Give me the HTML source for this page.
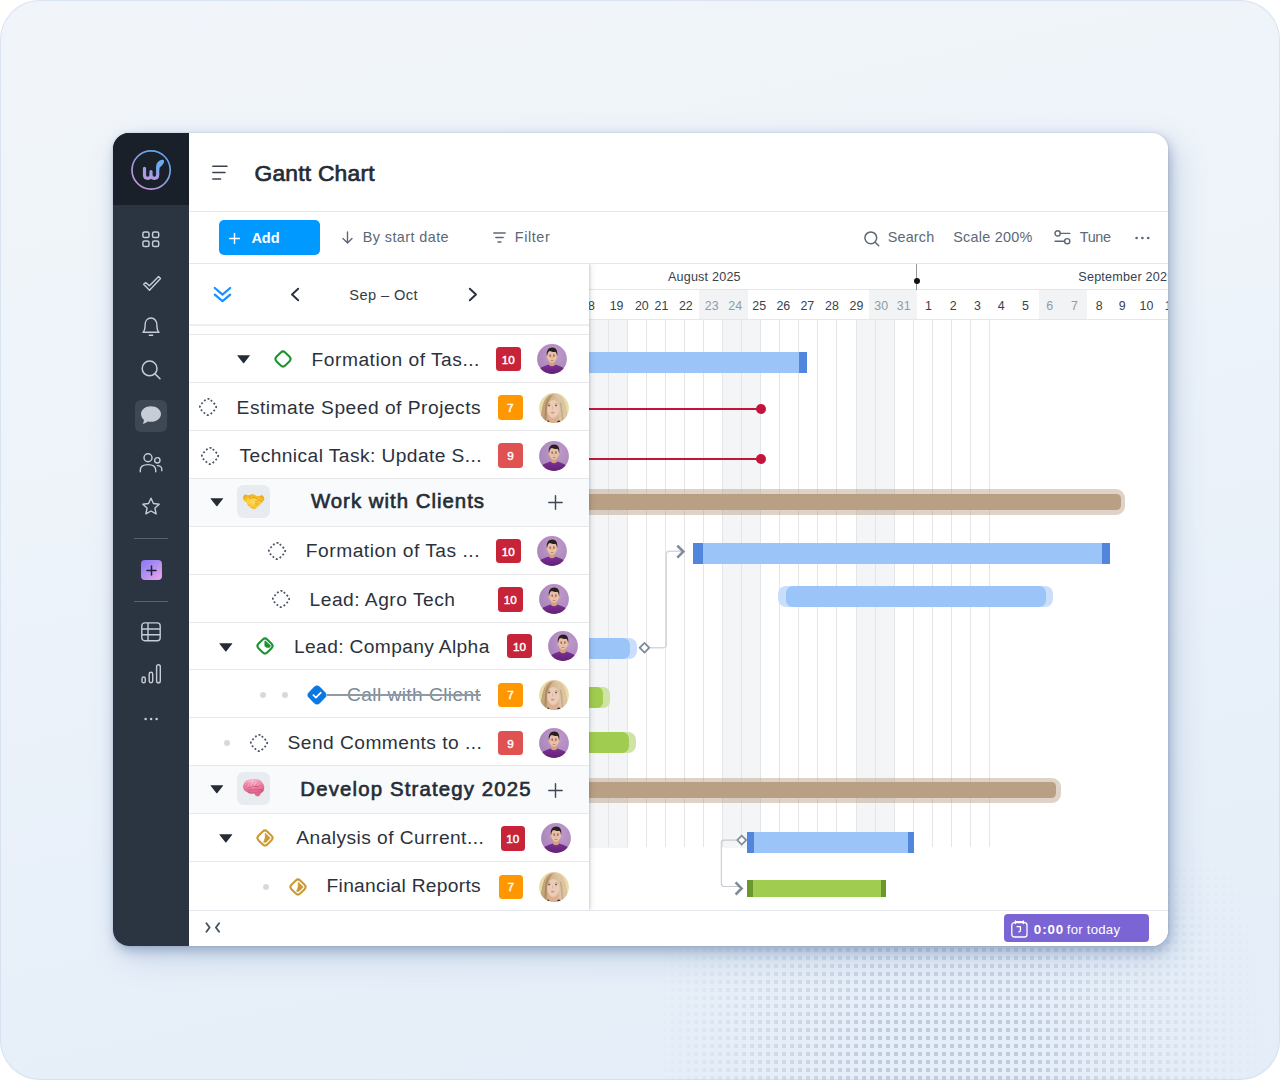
<!DOCTYPE html><html lang="en"><head><meta charset="utf-8"><title>Gantt Chart</title><style>
*{box-sizing:border-box;margin:0;padding:0}
html,body{width:1280px;height:1080px;overflow:hidden}
body{background:#fff;font-family:"Liberation Sans",sans-serif;position:relative}
.a{position:absolute}
.t{position:absolute;white-space:nowrap;line-height:1}
#bg{position:absolute;left:0;top:0;width:1280px;height:1080px;border-radius:40px;
 background:linear-gradient(168deg,#f1f5fa 0%,#edf3f9 40%,#e8f0f9 70%,#e4edf8 100%);box-shadow:inset 0 0 0 1px rgba(200,215,235,.55);overflow:hidden}
#shadow{position:absolute;left:113px;top:133px;width:1055px;height:813px;border-radius:16px;
 box-shadow:0 0 2px rgba(70,95,135,.28),2px 5px 12px rgba(80,110,155,.42),8px 12px 32px rgba(100,130,175,.24)}
#win{position:absolute;left:0;top:0;width:1280px;height:1080px;clip-path:inset(133px 112px 134px 113px round 16px);background:#fff}
svg{position:absolute;overflow:visible}
</style></head><body>
<div id="bg"><svg width="1280" height="1080" style="left:0;top:0"><defs><pattern id="dp" x="6" y="4" width="8" height="8" patternUnits="userSpaceOnUse"><rect width="4" height="4" fill="#c1ccdb"/></pattern><linearGradient id="mh" x1="660" y1="0" x2="1260" y2="0" gradientUnits="userSpaceOnUse"><stop offset="0" stop-color="#000"/><stop offset=".2" stop-color="#999"/><stop offset=".36" stop-color="#fff"/><stop offset=".62" stop-color="#fff"/><stop offset=".8" stop-color="#777"/><stop offset="1" stop-color="#000"/></linearGradient><linearGradient id="mv" x1="0" y1="850" x2="0" y2="1080" gradientUnits="userSpaceOnUse"><stop offset="0" stop-color="#000"/><stop offset=".4" stop-color="#aaa"/><stop offset=".75" stop-color="#fff"/><stop offset="1" stop-color="#fff"/></linearGradient><mask id="m1"><rect x="600" y="800" width="680" height="280" fill="url(#mh)"/></mask><mask id="m2"><rect x="600" y="800" width="680" height="280" fill="url(#mv)"/></mask></defs><g mask="url(#m1)"><rect x="600" y="800" width="680" height="280" fill="url(#dp)" mask="url(#m2)"/></g></svg></div>
<div id="shadow"></div><div id="win">
<div class="a" style="left:113px;top:133px;width:76px;height:813px;background:#2b3441"></div>
<div class="a" style="left:113px;top:133px;width:76px;height:72px;background:#1a202a"></div>
<svg style="left:130px;top:149px" width="42" height="42" viewBox="0 0 42 42"><defs><linearGradient id="lg" x1="0.85" y1="0.1" x2="0.2" y2="0.95"><stop offset="0" stop-color="#58a5ee"/><stop offset=".5" stop-color="#8e9de0"/><stop offset="1" stop-color="#c795d3"/></linearGradient><linearGradient id="lg2" x1="0.8" y1="0" x2="0.4" y2="1"><stop offset="0" stop-color="#86a6ea"/><stop offset="1" stop-color="#b59ae0"/></linearGradient></defs><circle cx="21.1" cy="21" r="19.1" fill="none" stroke="url(#lg)" stroke-width="1.7"/><path d="M14.5 19.3 V26.1 Q14.5 29.35 17.75 29.35 Q21 29.35 21 26.1 V22.6 M21 26.1 Q21 29.35 24.35 29.35 Q27.7 29.35 27.7 26.1 V19" fill="none" stroke="url(#lg2)" stroke-width="3.2" stroke-linecap="round" stroke-linejoin="round"/><path d="M26.1 20 C26 16 26.4 13.4 29.8 11.4 C31.6 10.4 34 10.5 34.1 12 C34.2 14.4 32 16.8 29.3 19 L29.3 21 Z" fill="#6dabec"/></svg>
<svg style="left:142px;top:231px" width="18" height="17" viewBox="0 0 18 17" fill="none" stroke="#c6cdd7" stroke-width="1.5"><rect x=".9" y=".9" width="6.1" height="5.6" rx="1.6"/><rect x="10.6" y=".9" width="6.1" height="5.6" rx="1.6"/><rect x=".9" y="10" width="6.1" height="5.6" rx="1.6"/><rect x="10.6" y="10" width="6.1" height="5.6" rx="1.6"/></svg>
<svg style="left:142px;top:275px" width="20" height="17" viewBox="0 0 20 17" fill="none" stroke="#c6cdd7" stroke-width="1.4" stroke-linejoin="round"><path d="M1.6 9.3 L3.7 7.6 L7.4 10.8 L16.6 1.6 L18.5 3.5 L7.5 15.2 Z"/></svg>
<svg style="left:142px;top:317px" width="18" height="20" viewBox="0 0 18 20" fill="none" stroke="#c6cdd7" stroke-width="1.4" stroke-linecap="round" stroke-linejoin="round"><path d="M1 15.2 C3 13.6 3.1 11.5 3.1 8 C3.1 3.8 5.6 1 9 1 C12.4 1 14.9 3.8 14.9 8 C14.9 11.5 15 13.6 17 15.2 Z"/><path d="M7.3 18.3 H10.7"/></svg>
<svg style="left:141px;top:360px" width="20" height="20" viewBox="0 0 20 20" fill="none" stroke="#c6cdd7" stroke-width="1.5" stroke-linecap="round"><circle cx="8.6" cy="8.4" r="7.4"/><path d="M14 13.9 L19 18.7"/></svg>
<div class="a" style="left:134.5px;top:399.5px;width:32.5px;height:32px;border-radius:6px;background:#3e4754"></div>
<svg style="left:140px;top:405px" width="22" height="21" viewBox="0 0 22 21"><path d="M11 1.2 C16.6 1.2 21 4.6 21 9 C21 13.4 16.6 16.8 11 16.8 C9.8 16.8 8.7 16.6 7.7 16.4 C6.5 17.6 4.6 18.7 2.7 18.7 C3.6 17.5 4 16 3.8 14.7 C2 13.2 1 11.2 1 9 C1 4.6 5.4 1.2 11 1.2 Z" fill="#c6cdd7"/></svg>
<svg style="left:139px;top:452px" width="24" height="21" viewBox="0 0 24 21" fill="none" stroke="#c6cdd7" stroke-width="1.4" stroke-linecap="round"><circle cx="9" cy="5.7" r="4"/><path d="M1.3 19.7 V18 C1.3 14.6 4.2 12.6 9 12.6 C13.8 12.6 16.7 14.6 16.7 18 V19.7"/><circle cx="18.3" cy="8.3" r="2.7"/><path d="M18.3 13.6 C21 13.6 22.8 15 22.8 17.6 V18.7"/></svg>
<svg style="left:141px;top:496px" width="20" height="20" viewBox="0 0 20 20" fill="none" stroke="#c6cdd7" stroke-width="1.4" stroke-linejoin="round"><path d="M10 2.2 L12.45 7.5 L18.2 8.2 L13.95 12.1 L15.1 17.8 L10 15 L4.9 17.8 L6.05 12.1 L1.8 8.2 L7.55 7.5 Z"/></svg>
<div class="a" style="left:134px;top:537.5px;width:33.5px;height:1.2px;background:#58626f"></div>
<div class="a" style="left:140.5px;top:559.5px;width:21px;height:20.5px;border-radius:4px;background:linear-gradient(140deg,#8a79f6 0%,#a98bf3 40%,#f2a7eb 100%)"></div>
<svg style="left:145.5px;top:564.5px" width="11" height="11" viewBox="0 0 11 11" stroke="#1f2430" stroke-width="1.5" stroke-linecap="round"><path d="M5.5 1 V10 M1 5.5 H10"/></svg>
<div class="a" style="left:134px;top:600.5px;width:33.5px;height:1.2px;background:#58626f"></div>
<svg style="left:141px;top:622px" width="20" height="20" viewBox="0 0 20 20" fill="none" stroke="#c6cdd7" stroke-width="1.4"><rect x=".8" y=".9" width="18.4" height="17.8" rx="3"/><path d="M.8 7 H19.2 M.8 12.8 H19.2 M7 .9 V18.7"/></svg>
<svg style="left:140.5px;top:664px" width="21" height="20" viewBox="0 0 21 20" fill="none" stroke="#c6cdd7" stroke-width="1.4"><rect x="1" y="13" width="3.3" height="5.8" rx="1.65"/><rect x="8.2" y="8.3" width="3.5" height="10.5" rx="1.75"/><rect x="15.6" y=".8" width="3.7" height="18" rx="1.85"/></svg>
<svg style="left:144px;top:717px" width="15" height="4" viewBox="0 0 15 4" fill="#c6cdd7"><circle cx="1.6" cy="2" r="1.25"/><circle cx="7.1" cy="2" r="1.25"/><circle cx="12.6" cy="2" r="1.25"/></svg>
<div class="a" style="left:189px;top:211px;width:979px;height:1px;background:#e3e6ea"></div>
<svg style="left:211.5px;top:165px" width="16" height="15" viewBox="0 0 16 15" stroke="#3a424d" stroke-width="1.5" stroke-linecap="round"><path d="M.8 1.2 H15 M.8 7.6 H13 M.8 14 H8.6"/></svg>
<span class="t " style="left:254.50px;top:162.00px;font-size:22.8px;color:#242b35;letter-spacing:0.224px;-webkit-text-stroke:.7px #242b35;">Gantt Chart</span>
<div class="a" style="left:189px;top:263px;width:979px;height:1px;background:#e3e6ea"></div>
<div class="a" style="left:218.5px;top:220px;width:101px;height:35px;border-radius:5px;background:#0099ff"></div>
<svg style="left:228.5px;top:232.5px" width="11" height="11" viewBox="0 0 11 11" stroke="#fff" stroke-width="1.5" stroke-linecap="round"><path d="M5.5 .6 V10.4 M.6 5.5 H10.4"/></svg>
<span class="t " style="left:251.40px;top:231.00px;font-size:14.6px;color:#fff;letter-spacing:-0.067px;font-weight:700;">Add</span>
<svg style="left:342px;top:231px" width="11" height="13" viewBox="0 0 11 13" fill="none" stroke="#5c6877" stroke-width="1.4" stroke-linecap="round" stroke-linejoin="round"><path d="M5.5 1 V11.6 M1 7.4 L5.5 11.9 L10 7.4"/></svg>
<span class="t " style="left:362.76px;top:230.00px;font-size:14.4px;color:#5c6877;letter-spacing:0.421px;">By start date</span>
<svg style="left:493px;top:231.5px" width="13" height="11" viewBox="0 0 13 11" stroke="#5c6877" stroke-width="1.4" stroke-linecap="round"><path d="M.8 1 H12.2 M2.8 5.5 H10.2 M5 10 H8"/></svg>
<span class="t " style="left:514.76px;top:230.00px;font-size:14.4px;color:#5c6877;letter-spacing:0.592px;">Filter</span>
<svg style="left:864px;top:230.5px" width="16" height="16" viewBox="0 0 16 16" fill="none" stroke="#5c6877" stroke-width="1.5" stroke-linecap="round"><circle cx="6.8" cy="6.8" r="5.9"/><path d="M11.2 11.3 L14.7 14.8"/></svg>
<span class="t " style="left:887.76px;top:230.00px;font-size:14.4px;color:#5c6877;letter-spacing:0.161px;">Search</span>
<span class="t " style="left:953.26px;top:230.00px;font-size:14.4px;color:#5c6877;letter-spacing:0.253px;">Scale 200%</span>
<svg style="left:1054px;top:230px" width="17" height="15" viewBox="0 0 17 15" fill="none" stroke="#5c6877" stroke-width="1.4" stroke-linecap="round"><circle cx="3.6" cy="3.4" r="2.6"/><path d="M6.4 3.4 H15.8"/><circle cx="13.2" cy="11.2" r="2.6"/><path d="M1 11.2 H10.4"/></svg>
<span class="t " style="left:1079.75px;top:230.00px;font-size:14.4px;color:#5c6877;letter-spacing:-0.344px;">Tune</span>
<svg style="left:1135px;top:235.5px" width="15" height="4" viewBox="0 0 15 4" fill="#5c6877"><circle cx="1.6" cy="2" r="1.35"/><circle cx="7.4" cy="2" r="1.35"/><circle cx="13.2" cy="2" r="1.35"/></svg>
<div class="a" style="left:589px;top:289px;width:579px;height:1px;background:#e3e6ea"></div>
<div class="a" style="left:589px;top:319px;width:579px;height:1px;background:#e3e6ea"></div>
<div class="a" style="left:699px;top:290px;width:48.60px;height:29.2px;background:#f1f3f5"></div>
<div class="a" style="left:868.5px;top:290px;width:48.25px;height:29.2px;background:#f1f3f5"></div>
<div class="a" style="left:1038.5px;top:290px;width:48.25px;height:29.2px;background:#f1f3f5"></div>
<span class="t " style="left:581.21px;top:300.00px;font-size:12.4px;color:#38414c;letter-spacing:0.000px;">18</span>
<span class="t " style="left:609.71px;top:300.00px;font-size:12.4px;color:#38414c;letter-spacing:0.000px;">19</span>
<span class="t " style="left:634.96px;top:300.00px;font-size:12.4px;color:#38414c;letter-spacing:0.000px;">20</span>
<span class="t " style="left:654.58px;top:300.00px;font-size:12.4px;color:#38414c;letter-spacing:0.000px;">21</span>
<span class="t " style="left:678.93px;top:300.00px;font-size:12.4px;color:#38414c;letter-spacing:0.000px;">22</span>
<span class="t " style="left:704.76px;top:300.00px;font-size:12.4px;color:#8f9baa;letter-spacing:0.000px;">23</span>
<span class="t " style="left:728.31px;top:300.00px;font-size:12.4px;color:#8f9baa;letter-spacing:0.000px;">24</span>
<span class="t " style="left:752.36px;top:300.00px;font-size:12.4px;color:#38414c;letter-spacing:0.000px;">25</span>
<span class="t " style="left:776.46px;top:300.00px;font-size:12.4px;color:#38414c;letter-spacing:0.000px;">26</span>
<span class="t " style="left:800.48px;top:300.00px;font-size:12.4px;color:#38414c;letter-spacing:0.000px;">27</span>
<span class="t " style="left:825.06px;top:300.00px;font-size:12.4px;color:#38414c;letter-spacing:0.000px;">28</span>
<span class="t " style="left:849.56px;top:300.00px;font-size:12.4px;color:#38414c;letter-spacing:0.000px;">29</span>
<span class="t " style="left:874.31px;top:300.00px;font-size:12.4px;color:#8f9baa;letter-spacing:0.000px;">30</span>
<span class="t " style="left:896.78px;top:300.00px;font-size:12.4px;color:#8f9baa;letter-spacing:0.000px;">31</span>
<span class="t " style="left:924.90px;top:300.00px;font-size:12.4px;color:#38414c;letter-spacing:0.000px;">1</span>
<span class="t " style="left:949.65px;top:300.00px;font-size:12.4px;color:#38414c;letter-spacing:0.000px;">2</span>
<span class="t " style="left:974.03px;top:300.00px;font-size:12.4px;color:#38414c;letter-spacing:0.000px;">3</span>
<span class="t " style="left:997.65px;top:300.00px;font-size:12.4px;color:#38414c;letter-spacing:0.000px;">4</span>
<span class="t " style="left:1022.03px;top:300.00px;font-size:12.4px;color:#38414c;letter-spacing:0.000px;">5</span>
<span class="t " style="left:1046.28px;top:300.00px;font-size:12.4px;color:#8f9baa;letter-spacing:0.000px;">6</span>
<span class="t " style="left:1070.90px;top:300.00px;font-size:12.4px;color:#8f9baa;letter-spacing:0.000px;">7</span>
<span class="t " style="left:1095.78px;top:300.00px;font-size:12.4px;color:#38414c;letter-spacing:0.000px;">8</span>
<span class="t " style="left:1118.78px;top:300.00px;font-size:12.4px;color:#38414c;letter-spacing:0.000px;">9</span>
<span class="t " style="left:1139.56px;top:300.00px;font-size:12.4px;color:#38414c;letter-spacing:0.000px;">10</span>
<span class="t " style="left:1164.73px;top:300.00px;font-size:12.4px;color:#38414c;letter-spacing:0.000px;">11</span>
<span class="t " style="left:667.90px;top:271.00px;font-size:12.6px;color:#38414c;letter-spacing:0.199px;">August 2025</span>
<span class="t " style="left:1078.30px;top:271.00px;font-size:12.6px;color:#38414c;letter-spacing:0.213px;">September 2025</span>
<div class="a" style="left:916.3px;top:264px;width:1px;height:26px;background:#9097a0"></div>
<div class="a" style="left:913.6px;top:277.6px;width:6.4px;height:6.4px;border-radius:50%;background:#111"></div>
<div class="a" style="left:588.89px;top:320px;width:38.65px;height:528px;background:#f3f5f7"></div>
<div class="a" style="left:722.74px;top:320px;width:38.08px;height:528px;background:#f3f5f7"></div>
<div class="a" style="left:856.02px;top:320px;width:38.08px;height:528px;background:#f3f5f7"></div>
<div class="a" style="left:608.00px;top:320px;width:1px;height:527px;background:#e3e5e7"></div>
<div class="a" style="left:627.04px;top:320px;width:1px;height:527px;background:#e3e5e7"></div>
<div class="a" style="left:646.08px;top:320px;width:1px;height:527px;background:#e3e5e7"></div>
<div class="a" style="left:665.12px;top:320px;width:1px;height:527px;background:#e3e5e7"></div>
<div class="a" style="left:684.16px;top:320px;width:1px;height:527px;background:#e3e5e7"></div>
<div class="a" style="left:703.20px;top:320px;width:1px;height:527px;background:#e3e5e7"></div>
<div class="a" style="left:722.24px;top:320px;width:1px;height:527px;background:#e3e5e7"></div>
<div class="a" style="left:741.28px;top:320px;width:1px;height:527px;background:#e3e5e7"></div>
<div class="a" style="left:760.32px;top:320px;width:1px;height:527px;background:#e3e5e7"></div>
<div class="a" style="left:779.36px;top:320px;width:1px;height:527px;background:#e3e5e7"></div>
<div class="a" style="left:798.40px;top:320px;width:1px;height:527px;background:#e3e5e7"></div>
<div class="a" style="left:817.44px;top:320px;width:1px;height:527px;background:#e3e5e7"></div>
<div class="a" style="left:836.48px;top:320px;width:1px;height:527px;background:#e3e5e7"></div>
<div class="a" style="left:855.52px;top:320px;width:1px;height:527px;background:#e3e5e7"></div>
<div class="a" style="left:874.56px;top:320px;width:1px;height:527px;background:#e3e5e7"></div>
<div class="a" style="left:893.60px;top:320px;width:1px;height:527px;background:#e3e5e7"></div>
<div class="a" style="left:912.64px;top:320px;width:1px;height:527px;background:#e3e5e7"></div>
<div class="a" style="left:931.68px;top:320px;width:1px;height:527px;background:#e3e5e7"></div>
<div class="a" style="left:950.72px;top:320px;width:1px;height:527px;background:#e3e5e7"></div>
<div class="a" style="left:969.76px;top:320px;width:1px;height:527px;background:#e3e5e7"></div>
<div class="a" style="left:988.80px;top:320px;width:1px;height:527px;background:#e3e5e7"></div>
<div class="a" style="left:580px;top:352px;width:226.75px;height:21.00px;background:#9bc5f9;"></div>
<div class="a" style="left:799px;top:352px;width:7.75px;height:21.00px;background:#5285dc;"></div>
<div class="a" style="left:580px;top:408.4px;width:180.00px;height:2.00px;background:#c5143a;"></div>
<div class="a" style="left:755.75px;top:404.25px;width:10.00px;height:10.00px;background:#c5143a;border-radius:50%"></div>
<div class="a" style="left:580px;top:457.6px;width:180.00px;height:2.00px;background:#c5143a;"></div>
<div class="a" style="left:755.75px;top:453.5px;width:10.00px;height:10.00px;background:#c5143a;border-radius:50%"></div>
<div class="a" style="left:570px;top:489.25px;width:555.00px;height:25.75px;background:rgba(184,158,130,.45);border-radius:9px"></div>
<div class="a" style="left:570px;top:494.25px;width:551.00px;height:15.75px;background:#b99f84;border-radius:4.5px"></div>
<div class="a" style="left:693px;top:543px;width:416.70px;height:21.00px;background:#9bc5f9;"></div>
<div class="a" style="left:693px;top:543px;width:9.60px;height:21.00px;background:#5285dc;"></div>
<div class="a" style="left:1102px;top:543px;width:7.70px;height:21.00px;background:#5285dc;"></div>
<div class="a" style="left:777.5px;top:585.75px;width:275.90px;height:20.85px;background:#c8defb;border-radius:8px"></div>
<div class="a" style="left:786px;top:585.75px;width:260.40px;height:20.85px;background:#9bc5f9;border-radius:7px"></div>
<div class="a" style="left:570px;top:637.5px;width:66.50px;height:21.00px;background:#c8defb;border-radius:8px"></div>
<div class="a" style="left:570px;top:637.5px;width:59.50px;height:21.00px;background:#9bc5f9;border-radius:7px"></div>
<div class="a" style="left:570px;top:686.75px;width:39.75px;height:21.00px;background:#cfe3a6;border-radius:7px"></div>
<div class="a" style="left:570px;top:686.75px;width:33.00px;height:21.00px;background:#a0cc4f;border-radius:6px"></div>
<div class="a" style="left:570px;top:731.75px;width:66.00px;height:21.00px;background:#cfe3a6;border-radius:8px"></div>
<div class="a" style="left:570px;top:731.75px;width:59.00px;height:21.00px;background:#a0cc4f;border-radius:7px"></div>
<div class="a" style="left:570px;top:777.5px;width:490.50px;height:25.75px;background:rgba(184,158,130,.45);border-radius:9px"></div>
<div class="a" style="left:570px;top:782px;width:486.20px;height:16.25px;background:#b99f84;border-radius:4.5px"></div>
<div class="a" style="left:746.9px;top:832.2px;width:167.10px;height:20.80px;background:#9bc5f9;"></div>
<div class="a" style="left:746.9px;top:832.2px;width:7.00px;height:20.80px;background:#5285dc;"></div>
<div class="a" style="left:907.6px;top:832.2px;width:6.40px;height:20.80px;background:#5285dc;"></div>
<div class="a" style="left:746.9px;top:879.75px;width:139.40px;height:17.25px;background:#a0cc4f;"></div>
<div class="a" style="left:746.9px;top:879.75px;width:5.80px;height:17.25px;background:#6b982c;"></div>
<div class="a" style="left:880.7px;top:879.75px;width:5.60px;height:17.25px;background:#6b982c;"></div>
<svg style="left:0;top:0" width="1280" height="1080" fill="none"><path d="M650.5 647.75 H663.2 Q666.2 647.75 666.2 644.75 V554.3 Q666.2 551.3 669.2 551.3 H682" stroke="#d3d8dd" stroke-width="1.5"/><path d="M677.3 545.6 L683.3 551.6 L677.3 557.6" stroke="#7f8b97" stroke-width="2.6"/><path d="M639.7 647.75 L644.5 642.95 L649.3 647.75 L644.5 652.55 Z" fill="#fff" stroke="#7f8b97" stroke-width="1.8"/><path d="M736 840.1 H724.3 Q721.3 840.1 721.3 843.1 V883.5 Q721.3 886.5 724.3 886.5 H740" stroke="#c3cad1" stroke-width="1.1"/><path d="M735.6 882.3 L741.6 888.4 L735.6 894.5" stroke="#7f8b97" stroke-width="2.6"/><path d="M737.2 840.1 L741.7 835.6 L746.2 840.1 L741.7 844.6 Z" fill="#fff" stroke="#7f8b97" stroke-width="1.7"/></svg>
<div class="a" style="left:189px;top:910px;width:979px;height:36px;background:#fff;border-top:1px solid #e3e6ea"></div>
<svg style="left:205px;top:922px" width="16" height="11" viewBox="0 0 16 11" fill="none" stroke="#455367" stroke-width="1.9" stroke-linecap="round" stroke-linejoin="round"><path d="M1.4 1.2 L4.6 5.5 L1.4 9.8 M14.1 1.2 L10.9 5.5 L14.1 9.8"/></svg>
<div class="a" style="left:1004px;top:914.4px;width:145px;height:27.6px;border-radius:4px;background:#7b64d3"></div>
<svg style="left:1010.5px;top:919.5px" width="17" height="18" viewBox="0 0 17 18" fill="none" stroke="#fff" stroke-width="1.3" stroke-linecap="round" stroke-linejoin="round"><rect x=".8" y="2.6" width="15.2" height="14.4" rx="2.6"/><path d="M4.3 .8 V3.6 M12.5 .8 V3.6 M5 1.6 H11.8" /><path d="M6 6.6 H9.4 V10.4 Q9.4 11.8 7.8 11.8"/></svg>
<span class="t " style="left:1033.80px;top:923.00px;font-size:13.4px;color:#fff;letter-spacing:0.898px;font-weight:700;">0:00</span>
<span class="t " style="left:1066.75px;top:923.00px;font-size:13.2px;color:#fff;letter-spacing:0.243px;">for today</span>
<div class="a" style="left:189px;top:264px;width:399.5px;height:646px;background:#fff;box-shadow:1px 0 2px rgba(30,40,60,.16),3px 0 5px rgba(30,40,60,.07);clip-path:inset(0 -12px 0 0)"></div>
<div class="a" style="left:189px;top:324px;width:399.5px;height:2px;background:#eceef0"></div>
<svg style="left:213px;top:286px" width="19" height="17" viewBox="0 0 19 17" fill="none" stroke="#1890ff" stroke-width="2.2" stroke-linecap="round" stroke-linejoin="round"><path d="M1.8 2 L9.5 8.6 L17.2 2 M1.8 8.6 L9.5 15.2 L17.2 8.6"/></svg>
<svg style="left:290px;top:287px" width="10" height="15" viewBox="0 0 10 15" fill="none" stroke="#2a313b" stroke-width="1.9" stroke-linecap="round" stroke-linejoin="round"><path d="M8.2 1.7 L2 7.5 L8.2 13.3"/></svg>
<svg style="left:468px;top:287px" width="10" height="15" viewBox="0 0 10 15" fill="none" stroke="#2a313b" stroke-width="1.9" stroke-linecap="round" stroke-linejoin="round"><path d="M1.8 1.7 L8 7.5 L1.8 13.3"/></svg>
<span class="t " style="left:349.24px;top:288.00px;font-size:14.6px;color:#333b46;letter-spacing:0.414px;">Sep – Oct</span>
<div class="a" style="left:189px;top:478px;width:399.5px;height:48px;background:#f8fafb"></div>
<div class="a" style="left:189px;top:766px;width:399.5px;height:48px;background:#f8fafb"></div>
<div class="a" style="left:189px;top:333.8px;width:399.5px;height:1px;background:#e6e8ea"></div>
<div class="a" style="left:189px;top:381.9px;width:399.5px;height:1px;background:#e6e8ea"></div>
<div class="a" style="left:189px;top:429.9px;width:399.5px;height:1px;background:#e6e8ea"></div>
<div class="a" style="left:189px;top:477.8px;width:399.5px;height:1px;background:#e6e8ea"></div>
<div class="a" style="left:189px;top:525.6px;width:399.5px;height:1px;background:#e6e8ea"></div>
<div class="a" style="left:189px;top:573.8px;width:399.5px;height:1px;background:#e6e8ea"></div>
<div class="a" style="left:189px;top:621.5px;width:399.5px;height:1px;background:#e6e8ea"></div>
<div class="a" style="left:189px;top:669.1px;width:399.5px;height:1px;background:#e6e8ea"></div>
<div class="a" style="left:189px;top:716.8px;width:399.5px;height:1px;background:#e6e8ea"></div>
<div class="a" style="left:189px;top:764.9px;width:399.5px;height:1px;background:#e6e8ea"></div>
<div class="a" style="left:189px;top:812.6px;width:399.5px;height:1px;background:#e6e8ea"></div>
<div class="a" style="left:189px;top:860.8px;width:399.5px;height:1px;background:#e6e8ea"></div>
<svg width="0" height="0" style="left:0;top:0"><defs><clipPath id="avc"><circle cx="15" cy="15" r="14.9"/></clipPath><radialGradient id="mbg" cx=".6" cy=".35" r=".8"><stop offset="0" stop-color="#bf9dcc"/><stop offset="1" stop-color="#a77fb7"/></radialGradient><linearGradient id="msh" x1="0" y1="0" x2="0" y2="1"><stop offset="0" stop-color="#7b3292"/><stop offset="1" stop-color="#5f1f74"/></linearGradient><linearGradient id="wh" x1="0" y1="0" x2="1" y2="0"><stop offset="0" stop-color="#b8946c"/><stop offset=".35" stop-color="#d2b48e"/><stop offset=".75" stop-color="#dcc3a1"/><stop offset="1" stop-color="#c9aa84"/></linearGradient><symbol id="man" viewBox="0 0 30 30"><g clip-path="url(#avc)"><rect width="30" height="30" fill="url(#mbg)"/><path d="M.5 31 L3 24 Q7.6 21.8 11.6 20.5 Q15 23.2 18.4 20.5 Q22.4 21.8 27 24 L29.5 31 Z" fill="url(#msh)"/><path d="M12.1 16.5 H17.9 V20.9 Q15 23.4 12.1 20.9 Z" fill="#d39f80"/><ellipse cx="10.2" cy="13.2" rx=".9" ry="1.5" fill="#dcaa8d"/><ellipse cx="19.9" cy="13.2" rx=".9" ry="1.5" fill="#dcaa8d"/><ellipse cx="15.05" cy="12.7" rx="4.75" ry="6.5" fill="#eac1a6"/><path d="M11.2 15.5 Q15 21.4 18.9 15.5 Q18.4 19 15.05 19.25 Q11.7 19 11.2 15.5 Z" fill="#c99a80" opacity=".5"/><path d="M10 12.2 C8.9 6.4 11.6 3.5 15.3 3.6 C19 3.6 21.1 6.6 20.1 12.2 C19.9 10 19.4 8.7 18.5 7.7 C16.6 8.3 13.2 7.9 12 7.1 C10.9 8.2 10.3 10 10 12.2 Z" fill="#2a211f"/><path d="M12.3 11 H14.1 M16 11 H17.8" stroke="#3a2a24" stroke-width=".55"/><path d="M12.6 12.1 H13.9 M16.2 12.1 H17.5" stroke="#2e2420" stroke-width=".8"/><path d="M13.7 16.5 H16.4" stroke="#b06a64" stroke-width=".7"/><path d="M15.05 12.6 V14.6" stroke="#d3a083" stroke-width=".7"/></g></symbol><symbol id="wom" viewBox="0 0 30 30"><g clip-path="url(#avc)"><rect width="30" height="30" fill="#e9dda7"/><path d="M2.6 31 C1.6 22 3 10 7.6 4.4 C10 1.2 13 .4 15.4 .5 C19 .6 22.4 2.4 24.4 6.4 C27.4 12 28.4 22 27.4 31 Z" fill="url(#wh)"/><path d="M9.4 22 H19.4 V31 H9.4 Z" fill="#dcae92"/><ellipse cx="14.3" cy="16.2" rx="6.2" ry="9.3" fill="#edccb5"/><path d="M8.4 19 Q14 30 20.2 19 Q19.6 25 14.3 25.5 Q9.4 25 8.4 19 Z" fill="#dcae92" opacity=".55"/><path d="M14.8 1.6 C11.6 4.4 8.8 8.6 8.2 14 C7.8 19 8 25 7 31 L2.6 31 C1.8 22 3 10 7.6 4.4 C9.8 1.8 12.6 1 14.8 1.6 Z" fill="#c4a27a"/><path d="M13 2.4 C10.4 5.4 8.6 9 8 14 C7.4 20 7.6 26 6.4 31 L5 31 C6 24 5.6 18 6.4 12.6 C7.2 7.8 9.6 4 13 2.4 Z" fill="#a6825c" opacity=".8"/><path d="M14.8 1.6 C18.4 3.6 20.6 8 20.8 13.6 C21 19 21.4 25 22.6 31 L27.4 31 C28.4 22 27.4 12 24.4 6.4 C22.4 2.8 18.6 .8 14.8 1.6 Z" fill="#dcc5a4"/><path d="M20.6 10 C22 15 22 24 23.6 31 L25 31 C23.6 23 24 15 22.4 9 Z" fill="#c3a57f" opacity=".8"/><path d="M8.9 11.3 Q10.1 10.6 11.4 11.2 M15.9 11.2 Q17.2 10.6 18.4 11.3" stroke="#8d6d4e" stroke-width=".6" fill="none"/><ellipse cx="10.1" cy="12.7" rx="1.15" ry=".65" fill="#4d5d6c"/><ellipse cx="17.1" cy="12.7" rx="1.15" ry=".65" fill="#4d5d6c"/><path d="M13.5 13.4 V16.6" stroke="#dbb097" stroke-width=".8"/><ellipse cx="13.7" cy="19.6" rx="1.9" ry=".85" fill="#cf9186"/><path d="M6.4 31 L7.6 28 Q9.4 27 10.4 28.6 L10.4 31 Z M22.6 31 L21.4 28 Q19.4 27 18.4 28.6 L18.4 31 Z" fill="#24242a"/></g></symbol></defs></svg>
<svg style="left:236.95px;top:355px" width="13.200000000000017" height="8.550000000000011" viewBox="0 0 13 8.4"><path d="M.6 .3 H12.4 Q13 .3 12.6 .8 L7 7.9 Q6.5 8.4 6 7.9 L.4 .8 Q0 .3 .6 .3 Z" fill="#262c35"/></svg>
<svg style="left:272px;top:347.75px" width="22" height="22" viewBox="0 0 22 22"><rect x="4.8" y="4.8" width="12.4" height="12.4" rx="3.1" transform="rotate(45 11 11)" fill="none" stroke="#1b9230" stroke-width="2"/></svg>
<span class="t " style="left:311.55px;top:350.00px;font-size:19.2px;color:#2b323c;letter-spacing:0.520px;">Formation of Tas...</span>
<div class="a" style="left:496px;top:346.75px;width:24.7px;height:24.6px;border-radius:3.5px;background:#c7243a"></div>
<span class="t " style="left:501.75px;top:354.00px;font-size:11.7px;color:#fff;letter-spacing:0.000px;-webkit-text-stroke:.45px #fff;">10</span>
<svg style="left:536.75px;top:344px" width="30" height="30"><use href="#man" width="30" height="30"/></svg>
<svg style="left:197px;top:396px" width="22" height="22" viewBox="0 0 22 22"><rect x="4.15" y="4.15" width="13.7" height="13.7" rx="3.7" transform="rotate(45 11 11)" fill="none" stroke="#4d596c" stroke-width="1.8" stroke-dasharray="1.9 2.133" stroke-dashoffset="-0.2"/></svg>
<span class="t " style="left:236.60px;top:398.00px;font-size:19.2px;color:#2b323c;letter-spacing:0.504px;">Estimate Speed of Projects</span>
<div class="a" style="left:498px;top:395px;width:24.7px;height:24.6px;border-radius:3.5px;background:#ff9800"></div>
<span class="t " style="left:507.11px;top:402.00px;font-size:11.7px;color:#fff;letter-spacing:0.000px;-webkit-text-stroke:.45px #fff;">7</span>
<svg style="left:538.75px;top:392.5px" width="30" height="30"><use href="#wom" width="30" height="30"/></svg>
<svg style="left:198.5px;top:444.75px" width="22" height="22" viewBox="0 0 22 22"><rect x="4.15" y="4.15" width="13.7" height="13.7" rx="3.7" transform="rotate(45 11 11)" fill="none" stroke="#4d596c" stroke-width="1.8" stroke-dasharray="1.9 2.133" stroke-dashoffset="-0.2"/></svg>
<span class="t " style="left:239.55px;top:446.00px;font-size:19.2px;color:#2b323c;letter-spacing:0.425px;">Technical Task: Update S...</span>
<div class="a" style="left:498.25px;top:443.2px;width:24.7px;height:24.6px;border-radius:3.5px;background:#e05252"></div>
<span class="t " style="left:507.36px;top:450.00px;font-size:11.7px;color:#fff;letter-spacing:0.000px;-webkit-text-stroke:.45px #fff;">9</span>
<svg style="left:539.25px;top:440.75px" width="30" height="30"><use href="#man" width="30" height="30"/></svg>
<svg style="left:210.2px;top:498.25px" width="13.700000000000017" height="8.550000000000011" viewBox="0 0 13 8.4"><path d="M.6 .3 H12.4 Q13 .3 12.6 .8 L7 7.9 Q6.5 8.4 6 7.9 L.4 .8 Q0 .3 .6 .3 Z" fill="#262c35"/></svg>
<div class="a" style="left:237.1px;top:485px;width:32.5px;height:32.5px;border-radius:6.5px;background:#e8ecf0"></div>
<span class="t " style="left:310.90px;top:491.00px;font-size:20.4px;color:#252c36;letter-spacing:1.001px;-webkit-text-stroke:.65px #252c36;">Work with Clients</span>
<svg style="left:548.0px;top:495.0px" width="15" height="15" viewBox="0 0 15 15" stroke="#3d4651" stroke-width="1.4" stroke-linecap="round"><path d="M7.5 .8 V14.2 M.8 7.5 H14.2"/></svg>
<svg style="left:266.25px;top:539.75px" width="22" height="22" viewBox="0 0 22 22"><rect x="4.15" y="4.15" width="13.7" height="13.7" rx="3.7" transform="rotate(45 11 11)" fill="none" stroke="#4d596c" stroke-width="1.8" stroke-dasharray="1.9 2.133" stroke-dashoffset="-0.2"/></svg>
<span class="t " style="left:305.80px;top:541.00px;font-size:19.2px;color:#2b323c;letter-spacing:0.519px;">Formation of Tas ...</span>
<div class="a" style="left:496px;top:538.6px;width:24.7px;height:24.6px;border-radius:3.5px;background:#c7243a"></div>
<span class="t " style="left:501.75px;top:546.00px;font-size:11.7px;color:#fff;letter-spacing:0.000px;-webkit-text-stroke:.45px #fff;">10</span>
<svg style="left:536.75px;top:535.75px" width="30" height="30"><use href="#man" width="30" height="30"/></svg>
<svg style="left:270px;top:588.25px" width="22" height="22" viewBox="0 0 22 22"><rect x="4.15" y="4.15" width="13.7" height="13.7" rx="3.7" transform="rotate(45 11 11)" fill="none" stroke="#4d596c" stroke-width="1.8" stroke-dasharray="1.9 2.133" stroke-dashoffset="-0.2"/></svg>
<span class="t " style="left:309.55px;top:590.00px;font-size:19.2px;color:#2b323c;letter-spacing:0.504px;">Lead: Agro Tech</span>
<div class="a" style="left:498px;top:587px;width:24.7px;height:24.6px;border-radius:3.5px;background:#c7243a"></div>
<span class="t " style="left:503.75px;top:594.00px;font-size:11.7px;color:#fff;letter-spacing:0.000px;-webkit-text-stroke:.45px #fff;">10</span>
<svg style="left:538.75px;top:584.25px" width="30" height="30"><use href="#man" width="30" height="30"/></svg>
<svg style="left:218.95px;top:642.5px" width="13.700000000000017" height="8.799999999999955" viewBox="0 0 13 8.4"><path d="M.6 .3 H12.4 Q13 .3 12.6 .8 L7 7.9 Q6.5 8.4 6 7.9 L.4 .8 Q0 .3 .6 .3 Z" fill="#262c35"/></svg>
<svg style="left:254.45px;top:635.2px" width="22" height="22" viewBox="0 0 22 22"><rect x="4.8" y="4.8" width="12.4" height="12.4" rx="3.1" transform="rotate(45 11 11)" fill="none" stroke="#1b9230" stroke-width="2"/><path d="M10.75 5.9 L11.5 5.9 L16.7 10.7 L15.55 12.55 L12.6 12.55 L10.75 11.2 Z" fill="#1b9230" stroke="#1b9230" stroke-width=".5" stroke-linejoin="round"/></svg>
<span class="t " style="left:294.05px;top:637.00px;font-size:19.2px;color:#2b323c;letter-spacing:0.358px;">Lead: Company Alpha</span>
<div class="a" style="left:507.25px;top:633.75px;width:24.7px;height:24.6px;border-radius:3.5px;background:#c7243a"></div>
<span class="t " style="left:513.00px;top:641.00px;font-size:11.7px;color:#fff;letter-spacing:0.000px;-webkit-text-stroke:.45px #fff;">10</span>
<svg style="left:548px;top:631.25px" width="30" height="30"><use href="#man" width="30" height="30"/></svg>
<div class="a" style="left:259.5px;top:691.5px;width:6px;height:6px;border-radius:50%;background:#d8d9db"></div>
<div class="a" style="left:282px;top:691.5px;width:6px;height:6px;border-radius:50%;background:#d8d9db"></div>
<svg style="left:305.67px;top:683.6px" width="22" height="22" viewBox="0 0 22 22"><rect x="3.2" y="3.2" width="15.6" height="15.6" rx="4" transform="rotate(45 11 11)" fill="#0c79e2"/><path d="M7.4 11.2 L9.9 13.7 L14.8 8.7" fill="none" stroke="#fff" stroke-width="1.7" stroke-linecap="round" stroke-linejoin="round"/></svg>
<span class="t " style="left:347.00px;top:685.00px;font-size:19.2px;color:#7c8a98;letter-spacing:0.405px;">Call with Client</span>
<div class="a" style="left:326.75px;top:694.3px;width:154.5px;height:1.4px;background:#8e9aa6"></div>
<div class="a" style="left:498.25px;top:682.5px;width:24.7px;height:24.6px;border-radius:3.5px;background:#ff9800"></div>
<span class="t " style="left:507.36px;top:689.00px;font-size:11.7px;color:#fff;letter-spacing:0.000px;-webkit-text-stroke:.45px #fff;">7</span>
<svg style="left:539.25px;top:679.5px" width="30" height="30"><use href="#wom" width="30" height="30"/></svg>
<div class="a" style="left:224.25px;top:740px;width:6px;height:6px;border-radius:50%;background:#d8d9db"></div>
<svg style="left:247.5px;top:732px" width="22" height="22" viewBox="0 0 22 22"><rect x="4.15" y="4.15" width="13.7" height="13.7" rx="3.7" transform="rotate(45 11 11)" fill="none" stroke="#4d596c" stroke-width="1.8" stroke-dasharray="1.9 2.133" stroke-dashoffset="-0.2"/></svg>
<span class="t " style="left:287.55px;top:733.00px;font-size:19.2px;color:#2b323c;letter-spacing:0.457px;">Send Comments to ...</span>
<div class="a" style="left:498.25px;top:730.75px;width:24.7px;height:24.6px;border-radius:3.5px;background:#e05252"></div>
<span class="t " style="left:507.36px;top:738.00px;font-size:11.7px;color:#fff;letter-spacing:0.000px;-webkit-text-stroke:.45px #fff;">9</span>
<svg style="left:539.25px;top:728px" width="30" height="30"><use href="#man" width="30" height="30"/></svg>
<svg style="left:210.2px;top:785.2px" width="13.700000000000017" height="8.599999999999909" viewBox="0 0 13 8.4"><path d="M.6 .3 H12.4 Q13 .3 12.6 .8 L7 7.9 Q6.5 8.4 6 7.9 L.4 .8 Q0 .3 .6 .3 Z" fill="#262c35"/></svg>
<div class="a" style="left:237.1px;top:772.3px;width:32.5px;height:32.5px;border-radius:6.5px;background:#e8ecf0"></div>
<span class="t " style="left:300.36px;top:779.00px;font-size:20.4px;color:#252c36;letter-spacing:1.140px;-webkit-text-stroke:.65px #252c36;">Develop Strategy 2025</span>
<svg style="left:548.0px;top:782.5px" width="15" height="15" viewBox="0 0 15 15" stroke="#3d4651" stroke-width="1.4" stroke-linecap="round"><path d="M7.5 .8 V14.2 M.8 7.5 H14.2"/></svg>
<svg style="left:218.95px;top:834.25px" width="13.700000000000017" height="8.75" viewBox="0 0 13 8.4"><path d="M.6 .3 H12.4 Q13 .3 12.6 .8 L7 7.9 Q6.5 8.4 6 7.9 L.4 .8 Q0 .3 .6 .3 Z" fill="#262c35"/></svg>
<svg style="left:254.0px;top:827.4px" width="22" height="22" viewBox="0 0 22 22"><rect x="4.8" y="4.8" width="12.4" height="12.4" rx="3.1" transform="rotate(45 11 11)" fill="none" stroke="#cb9930" stroke-width="2"/><path d="M11.2 5.9 L16.3 11 L12.7 14.8 Q11.7 15.8 10.4 15.5 L9.5 15.3 Q11.9 11 11.2 5.9 Z" fill="#cb9930" stroke="#cb9930" stroke-width=".5" stroke-linejoin="round"/></svg>
<span class="t " style="left:296.30px;top:828.00px;font-size:19.2px;color:#2b323c;letter-spacing:0.448px;">Analysis of Current...</span>
<div class="a" style="left:500.5px;top:826px;width:24.7px;height:24.6px;border-radius:3.5px;background:#c7243a"></div>
<span class="t " style="left:506.25px;top:833.00px;font-size:11.7px;color:#fff;letter-spacing:0.000px;-webkit-text-stroke:.45px #fff;">10</span>
<svg style="left:541px;top:823.25px" width="30" height="30"><use href="#man" width="30" height="30"/></svg>
<div class="a" style="left:263.25px;top:883.75px;width:6px;height:6px;border-radius:50%;background:#d8d9db"></div>
<svg style="left:286.5px;top:875.65px" width="22" height="22" viewBox="0 0 22 22"><rect x="4.8" y="4.8" width="12.4" height="12.4" rx="3.1" transform="rotate(45 11 11)" fill="none" stroke="#cb9930" stroke-width="2"/><path d="M11.2 5.9 L16.3 11 L12.7 14.8 Q11.7 15.8 10.4 15.5 L9.5 15.3 Q11.9 11 11.2 5.9 Z" fill="#cb9930" stroke="#cb9930" stroke-width=".5" stroke-linejoin="round"/></svg>
<span class="t " style="left:326.55px;top:876.00px;font-size:19.2px;color:#2b323c;letter-spacing:0.302px;">Financial Reports</span>
<div class="a" style="left:498.5px;top:874.5px;width:24.7px;height:24.6px;border-radius:3.5px;background:#ff9800"></div>
<span class="t " style="left:507.61px;top:881.00px;font-size:11.7px;color:#fff;letter-spacing:0.000px;-webkit-text-stroke:.45px #fff;">7</span>
<svg style="left:539px;top:871.75px" width="30" height="30"><use href="#wom" width="30" height="30"/></svg>
<svg style="left:242.8px;top:493.8px" width="21.5" height="15.2" viewBox="0 0 21.5 15.2"><defs><radialGradient id="hs" cx=".47" cy=".55" r=".6"><stop offset="0" stop-color="#ffdc5e"/><stop offset=".55" stop-color="#fbc935"/><stop offset="1" stop-color="#eaa81c"/></radialGradient></defs><path d="M.2 2.4 Q1.2 .3 2.6 .4 Q4.6 1.4 6.3 1.4 Q8 .1 9.6 .2 Q11 .4 12.3 1.2 Q14 2.2 15.6 2.1 Q17.6 1.9 19 1.1 Q21.4 2.6 21.3 5 Q21.4 6.6 19.2 7.8 Q18.4 9.6 17.2 10.7 Q16 12.2 14.4 12.9 Q13.2 14.6 12 15 Q10.6 15.1 9.5 14.4 Q7.8 14 6.7 12.8 Q5.2 12.2 4.6 11 Q3.6 10 3.5 8.3 Q1.4 7.4 .4 5.8 Q-.1 4 .2 2.4 Z" fill="url(#hs)"/><path d="M6.3 1.5 Q6.2 3.4 7.4 4.6 Q8.6 4.6 9.6 3.4 Q11 2.6 12.4 3.6 Q15.4 5.8 19.1 7.8" fill="none" stroke="#d98f12" stroke-width=".9" stroke-linecap="round" stroke-linejoin="round" opacity=".85"/><path d="M12.4 7.6 L15 7.2 M12.4 9.4 L15.4 9 M12 11.1 L14.6 10.8" stroke="#d98f12" stroke-width=".7" stroke-linecap="round" opacity=".8"/><path d="M5.6 11.4 L6.8 10.2 M7.6 12.8 L8.8 11.6 M9.8 14 L10.8 12.8" stroke="#d98f12" stroke-width=".7" stroke-linecap="round" opacity=".7"/></svg>
<svg style="left:243px;top:779px" width="21.3" height="17.8" viewBox="0 0 21.3 17.8"><defs><radialGradient id="br" cx=".45" cy=".2" r=".8"><stop offset="0" stop-color="#fcc6d5"/><stop offset=".45" stop-color="#f08fae"/><stop offset="1" stop-color="#d9557f"/></radialGradient></defs><path d="M11.4 14.6 Q11.6 16.6 14.2 17.6 Q16.2 17.4 17.2 16 Q18 15 17.6 13.6 Q14 12.6 11.4 14.6 Z" fill="#dd6a8a"/><path d="M0 8.3 Q-.1 6 .9 4.5 Q1.8 2.4 3.5 1.6 Q5.4 .3 7.6 .2 Q9.9 -.2 12.2 0 Q14.6 .1 16.4 .9 Q18.2 1.8 19.2 3.4 Q20.6 4.8 20.9 6.5 Q21.5 8.2 21.1 9.7 Q21 11.4 20.2 12.5 Q19.2 13.9 17.7 14.2 Q15 13.4 12.6 14.2 Q11.4 14.8 10.6 14.6 Q8.4 15 6.5 14.6 Q5 14 4.1 12.9 Q2.6 12.4 1.6 11.4 Q.3 10.2 0 8.3 Z" fill="url(#br)"/><path d="M3.2 7.6 Q4 4.6 5.6 3.6 M6.4 7.2 Q7 4.4 8.4 2.8 M9.4 6.6 Q10 4 11.6 2.6 M12.6 6.4 Q13.6 4.4 15.4 3.4 M15.4 7 Q17 6 18.4 6.2" stroke="#d65a82" stroke-width=".7" fill="none" stroke-linecap="round" opacity=".8"/><path d="M4.4 9.6 Q6 8 8 8.4 Q10 6.8 12.2 7.6 Q14 7 15.4 8.2 M5.6 11.4 Q8 9.6 10.4 10.6 Q13 9.4 15.6 10.6 Q17.6 10 19.4 10.8 M12.2 7.6 L14.8 7.5" stroke="#c9456f" stroke-width=".8" fill="none" stroke-linecap="round" opacity=".75"/></svg>
</div></body></html>
